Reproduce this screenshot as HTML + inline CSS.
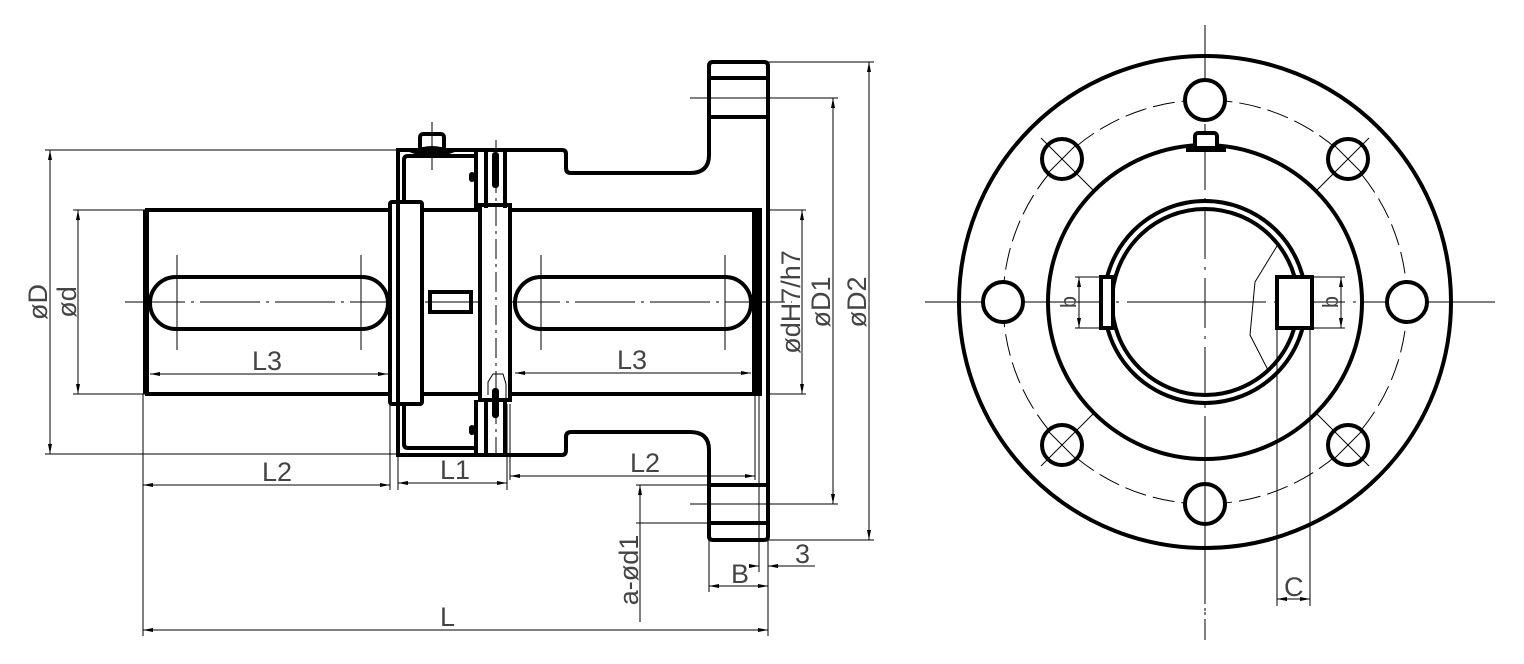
<!DOCTYPE html>
<html><head><meta charset="utf-8"><style>
html,body{margin:0;padding:0;background:#fff}
svg{display:block}
text{font-family:"Liberation Sans",sans-serif;font-size:27px;fill:#444;font-weight:normal}
</style></head><body>
<svg width="1524" height="664" viewBox="0 0 1524 664" xmlns="http://www.w3.org/2000/svg">
<defs>
<marker id="a" viewBox="0 0 10 4" refX="10" refY="2" markerWidth="10" markerHeight="4" orient="auto-start-reverse" markerUnits="userSpaceOnUse"><path d="M0,0 L10,2 L0,4z" fill="#000"/></marker>
</defs>
<g fill="none" stroke="#000">
<line x1="125" y1="302" x2="792" y2="302" stroke-width="1" stroke-dasharray="60,6,3,6"/>
<g stroke-width="4">
<rect x="147" y="210" width="613" height="184"/>
<rect x="150" y="277" width="238" height="52" rx="26"/>
<rect x="515" y="277" width="236" height="52" rx="26"/>
<rect x="390" y="202" width="32" height="202" rx="2" fill="#fff"/>
<rect x="480" y="205" width="30" height="195" fill="#fff"/>
<rect x="430" y="292" width="41" height="20"/>
<path d="M398,455 V150 H562 Q566,150 566,154 V168 Q566,173 571,173 H690 Q709,173 709,155 V66 Q709,62 713,62 H764 Q768,62 768,66 V536 Q768,540 764,540 H713 Q709,540 709,536 V450 Q709,432 690,432 H571 Q566,432 566,437 V450 Q566,455 562,455 Z" fill="none"/>
<path d="M404,202 V160 Q404,156 408,156 H478 M404,404 V444 Q404,448 408,448 H478"/>
<line x1="709" y1="78" x2="768" y2="78" /><line x1="709" y1="117" x2="768" y2="117"/>
<line x1="709" y1="485" x2="768" y2="485"/><line x1="709" y1="523" x2="768" y2="523"/>
<line x1="476" y1="152" x2="476" y2="208"/><line x1="486" y1="152" x2="486" y2="208"/>
<line x1="476" y1="400" x2="476" y2="453"/><line x1="486" y1="400" x2="486" y2="453"/>
<line x1="505" y1="152" x2="505" y2="208"/><line x1="505" y1="400" x2="505" y2="453"/>
</g>
<rect x="752" y="210" width="8" height="184" fill="#000" stroke="none"/>
<rect x="143" y="210" width="6" height="184" fill="#000" stroke="none"/>
<rect x="492" y="152" width="7" height="36" rx="3" fill="#000" stroke="none"/>
<rect x="492" y="388" width="7" height="30" rx="3" fill="#000" stroke="none"/>
<rect x="469" y="172" width="6" height="10" rx="3" fill="#000" stroke="none"/>
<rect x="469" y="425" width="6" height="10" rx="3" fill="#000" stroke="none"/>
<path d="M488,395 V382 L493,374 H503 L506,384 V400" stroke-width="1"/>
<line x1="496" y1="140" x2="496" y2="460" stroke-width="1" stroke-dasharray="20,5,3,5"/>
<rect x="420" y="134" width="24" height="16" rx="3" stroke-width="4"/>
<path d="M412,152 Q432,142 452,152 Q432,160 412,152Z" fill="#000" stroke-width="2"/>
<line x1="432" y1="122" x2="432" y2="170" stroke-width="1"/>
<g stroke-width="1">
<line x1="177" y1="255" x2="177" y2="350"/><line x1="361" y1="255" x2="361" y2="350"/>
<line x1="541" y1="255" x2="541" y2="350"/><line x1="725" y1="255" x2="725" y2="350"/>
</g>
<g stroke-width="1">
<line x1="45" y1="150" x2="400" y2="150"/><line x1="45" y1="454" x2="400" y2="454"/>
<line x1="50" y1="150" x2="50" y2="454" marker-start="url(#a)" marker-end="url(#a)"/>
<line x1="73" y1="210" x2="145" y2="210"/><line x1="73" y1="394" x2="145" y2="394"/>
<line x1="78" y1="210" x2="78" y2="394" marker-start="url(#a)" marker-end="url(#a)"/>
<line x1="150" y1="374" x2="388" y2="374" marker-start="url(#a)" marker-end="url(#a)"/>
<line x1="515" y1="373" x2="751" y2="373" marker-start="url(#a)" marker-end="url(#a)"/>
<line x1="143" y1="394" x2="143" y2="636"/>
<line x1="390" y1="404" x2="390" y2="490"/><line x1="398" y1="455" x2="398" y2="490"/>
<line x1="507" y1="404" x2="507" y2="490"/><line x1="510" y1="404" x2="510" y2="480"/>
<line x1="755" y1="394" x2="755" y2="480"/>
<line x1="143" y1="485" x2="390" y2="485" marker-start="url(#a)" marker-end="url(#a)"/>
<line x1="398" y1="483" x2="507" y2="483" marker-start="url(#a)" marker-end="url(#a)"/>
<line x1="510" y1="476" x2="755" y2="476" marker-start="url(#a)" marker-end="url(#a)"/>
<line x1="143" y1="630" x2="768" y2="630" marker-start="url(#a)" marker-end="url(#a)"/>
<line x1="768" y1="540" x2="768" y2="636"/><line x1="709" y1="540" x2="709" y2="592"/>
<line x1="759" y1="394" x2="759" y2="572"/>
<line x1="709" y1="586" x2="768" y2="586" marker-start="url(#a)" marker-end="url(#a)"/>
<line x1="750" y1="566" x2="759" y2="566" marker-end="url(#a)"/><line x1="778" y1="566" x2="768" y2="566" marker-end="url(#a)"/>
<line x1="768" y1="566" x2="815" y2="566"/>
<line x1="636" y1="485" x2="709" y2="485"/><line x1="636" y1="523" x2="709" y2="523"/>
<line x1="640" y1="485" x2="640" y2="622" marker-start="url(#a)"/>
<line x1="768" y1="210" x2="806" y2="210"/><line x1="768" y1="394" x2="806" y2="394"/>
<line x1="802" y1="210" x2="802" y2="394" marker-start="url(#a)" marker-end="url(#a)"/>
<line x1="690" y1="98" x2="838" y2="98"/><line x1="690" y1="504" x2="838" y2="504"/>
<line x1="833" y1="98" x2="833" y2="504" marker-start="url(#a)" marker-end="url(#a)"/>
<line x1="768" y1="62" x2="874" y2="62"/><line x1="768" y1="540" x2="874" y2="540"/>
<line x1="869" y1="62" x2="869" y2="540" marker-start="url(#a)" marker-end="url(#a)"/>
</g>
<g stroke-width="1">
<line x1="925" y1="302" x2="1495" y2="302" stroke-dasharray="80,8,3,8"/>
<line x1="1205" y1="25" x2="1205" y2="640" stroke-dasharray="80,8,3,8"/>
<circle cx="1205" cy="302" r="202" stroke-dasharray="22,7"/>
<line x1="1041" y1="138" x2="1369" y2="466"/><line x1="1369" y1="138" x2="1041" y2="466"/>
</g>
<circle cx="1205" cy="302" r="246" fill="none" stroke-width="4"/>
<circle cx="1205" cy="302" r="157" fill="#fff" stroke-width="4"/>
<circle cx="1205" cy="302" r="101" fill="#fff" stroke-width="4"/>
<circle cx="1205" cy="302" r="93" fill="#fff" stroke-width="4"/>
<g stroke-width="1">
<line x1="1048" y1="302" x2="1362" y2="302" stroke-dasharray="60,8,3,8"/>
<line x1="1205" y1="140" x2="1205" y2="640" stroke-dasharray="50,8,3,8"/>
<path d="M1277,246 L1255,282 L1250,335 L1268,370"/>
</g>
<g stroke-width="4" fill="#fff">
<circle cx="1205" cy="100" r="20"/><circle cx="1205" cy="504" r="20"/>
<circle cx="1003" cy="302" r="20"/><circle cx="1407" cy="302" r="20"/>
<circle cx="1062" cy="159" r="20"/><circle cx="1348" cy="159" r="20"/>
<circle cx="1062" cy="445" r="20"/><circle cx="1348" cy="445" r="20"/>
</g>
<g stroke-width="1">
<line x1="1048" y1="145" x2="1076" y2="173"/><line x1="1076" y1="145" x2="1048" y2="173"/>
<line x1="1334" y1="145" x2="1362" y2="173"/><line x1="1362" y1="145" x2="1334" y2="173"/>
<line x1="1048" y1="431" x2="1076" y2="459"/><line x1="1076" y1="431" x2="1048" y2="459"/>
<line x1="1334" y1="431" x2="1362" y2="459"/><line x1="1362" y1="431" x2="1334" y2="459"/>
<line x1="1205" y1="485" x2="1205" y2="525"/><line x1="1185" y1="302" x2="1225" y2="302"/>
</g>
<rect x="1101" y="277" width="12" height="51" stroke-width="4" fill="#fff"/>
<rect x="1277" y="277" width="35" height="51" stroke-width="4" fill="#fff"/>
<rect x="1195" y="133" width="22" height="16" rx="3" stroke-width="4" fill="#fff"/>
<rect x="1186" y="146" width="40" height="6" fill="#000" stroke="none"/>
<g stroke-width="1">
<line x1="1075" y1="277" x2="1101" y2="277"/><line x1="1075" y1="328" x2="1101" y2="328"/>
<line x1="1079" y1="277" x2="1079" y2="328" marker-start="url(#a)" marker-end="url(#a)"/>
<line x1="1312" y1="277" x2="1345" y2="277"/><line x1="1312" y1="328" x2="1345" y2="328"/>
<line x1="1341" y1="277" x2="1341" y2="328" marker-start="url(#a)" marker-end="url(#a)"/>
<line x1="1277" y1="328" x2="1277" y2="606"/><line x1="1310" y1="328" x2="1310" y2="606"/>
<line x1="1277" y1="599" x2="1310" y2="599" marker-start="url(#a)" marker-end="url(#a)"/>
</g>
</g>
<text x="252" y="370">L3</text>
<text x="617" y="369">L3</text>
<text x="262" y="481">L2</text>
<text x="440" y="479">L1</text>
<text x="630" y="472">L2</text>
<text x="440" y="626">L</text>
<text x="731" y="583">B</text>
<text x="795" y="563">3</text>
<text x="1284" y="596">C</text>
<text transform="translate(47,302) rotate(-90)" text-anchor="middle">øD</text>
<text transform="translate(76,302) rotate(-90)" text-anchor="middle">ød</text>
<text transform="translate(800,302) rotate(-90)" text-anchor="middle">ødH7/h7</text>
<text transform="translate(830,302) rotate(-90)" text-anchor="middle">øD1</text>
<text transform="translate(866,302) rotate(-90)" text-anchor="middle">øD2</text>
<text transform="translate(638,570) rotate(-90)" text-anchor="middle">a-ød1</text>
<text transform="translate(1076,302) rotate(-90)" text-anchor="middle" style="font-size:22px">b</text>
<text transform="translate(1338,302) rotate(-90)" text-anchor="middle" style="font-size:22px">b</text>
</svg>
</body></html>
